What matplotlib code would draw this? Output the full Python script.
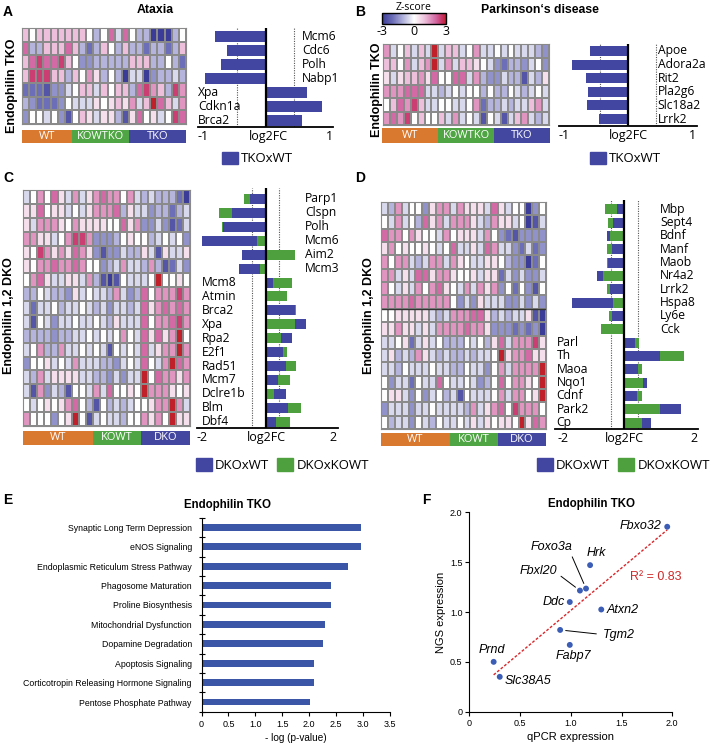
import numpy as np
import matplotlib
matplotlib.use("Agg")
import matplotlib.pyplot as plt
from matplotlib.colors import LinearSegmentedColormap, Normalize
from matplotlib.patches import Patch
from matplotlib.cm import ScalarMappable

plt.rcParams['axes.unicode_minus'] = False

# ---------------- data ----------------
group_colors = ['#D9782F', '#4FA444', '#4447A0']

# Panel A: Ataxia (Endophilin TKO)
a_groups = ['WT', 'KOWTKO', 'TKO']
a_group_sizes = [7, 8, 8]
a_genes = ['Mcm6', 'Cdc6', 'Polh', 'Nabp1', 'Xpa', 'Cdkn1a', 'Brca2']
a_tko_wt = [-0.75, -0.57, -0.66, -0.90, 0.61, 0.84, 0.54]
a_heat = [
    [1, 0, 1, 1, 1, 1, 1, 1, 1, 0, -1, 0, 2, -0.5, 2, 0, -1, -1, -3, -3, -3, -1, 0],
    [2, -1, -1, 1, 1, 1, 2, 1, -1, -2, -1, 1, 0, -1, 1, -1, -1, -2, -1, -1, -2, -1, 1],
    [1, 2, 2.5, 2, 2, 2.5, 1, 0, -1.5, -1.5, -1, -1, -1, -1, -1, 1, 1, 1, -1, -1, 0, -1, -2],
    [1, 2.5, 2.5, 2.5, 1, 1, -1, 1, 0, 1.5, 0.5, -1, 0, -1, -3, -0.5, -0.5, -3, -1.5, -1, -1, -0.5, -1],
    [-2, -2, -2, -2.5, -1.5, -1.5, -0.5, 0, 1, 1, -0.5, 1, 0, 1, 1, -1, 2, 2.5, 1.5, 1, -1, 2.5, 1.5],
    [-1, -1.5, -2, -2, -2, -1.5, 0, -0.5, -0.5, -0.5, 0.5, 0, 0.5, 1, 0.5, 1.5, -0.5, 1, 3, 2, 1, -0.5, 1.5],
    [-1.5, 0, 0, -0.5, 0, -1.5, -2.5, 0, 1, 0.5, -0.5, 0.5, 0.5, -1, -2.5, 0.5, 2, 0, 0.5, -0.5, 0, 2.5, 2],
]

# Panel B: Parkinson's disease (Endophilin TKO)
b_groups = ['WT', 'KOWTKO', 'TKO']
b_group_sizes = [8, 8, 8]
b_genes = ['Apoe', 'Adora2a', 'Rit2', 'Pla2g6', 'Slc18a2', 'Lrrk2']
b_tko_wt = [-0.55, -0.81, -0.61, -0.58, -0.59, -0.42]
b_heat = [
    [1.5, -0.5, 0, 1, -0.5, 1, -0.5, 3, -0.5, 1, 1, -0.5, 0, 1.5, -0.5, -0.5, 0, -0.5, 0, -0.5, -0.5, -0.5, -1, -1.5],
    [1, 1, 0, 1.5, -0.5, 1, 1.5, 3, -0.5, 1.5, -0.5, 1, 1, 0.5, 0, -0.5, -1.5, -2, -1, -1, -1.5, -0.5, 0, -1.5],
    [0.5, -0.5, 0.5, 1, 1, 1.5, 0.5, 2, 0, 0, 2, 2, -0.5, 1.5, -1, -1.5, -1.5, -0.5, -1, -1, -2.5, -0.5, -1, 0.5],
    [1.5, 1.5, 1.5, 2, 2, 2, -0.5, -0.5, -1, -0.5, 0, -0.5, 0, 0, -1, 0, -1, -1, 0, -0.5, -1, -0.5, 0, -0.5],
    [0, 1, 2, 1.5, 2.5, 1, -0.5, -0.5, 0, 0, -0.5, -0.5, 0, 1.5, -2, -1, -1, -0.5, -1, -0.5, -0.5, 1, 1.5, -0.5],
    [1.5, 2, 1.5, 2.5, 0, 1, 0, 0, 1, -0.5, 1.5, -0.5, 0, -0.5, -2.5, 0, -0.5, -2.5, -0.5, 1, 1.5, -0.5, -1, -0.5],
]

# Panel C: Ataxia genes (Endophilin 1,2 DKO)
c_groups = ['WT', 'KOWT', 'DKO']
c_group_sizes = [10, 7, 7]
c_genes = ['Parp1', 'Clspn', 'Polh', 'Mcm6', 'Aim2', 'Mcm3', 'Mcm8', 'Atmin', 'Brca2',
           'Xpa', 'Rpa2', 'E2f1', 'Rad51', 'Mcm7', 'Dclre1b', 'Blm', 'Dbf4']
c_dko_wt = [-0.46, -1.00, -1.26, -1.88, -0.71, -0.78, 0.21, 0.02, 0.86,
            1.18, 0.77, 0.50, 0.60, 0.37, 0.60, 0.65, 0.30]
c_dko_kowt = [-0.63, -1.36, -1.29, -0.24, 0.86, -0.18, 0.77, 0.64, 0.88,
              0.86, 0.45, 0.64, 0.88, 0.72, 0.25, 1.03, 0.72]
c_heat = [
    [-0.5, 0, 1.5, 0, 2, 0.5, -0.5, 1.5, -0.5, 0.5, 1.5, 2, 1.5, 1.5, 0, 1.5, -0.5, -1, -0.5, -1, -1, -1, -2, -3],
    [0.5, 0.5, 2, 0, 0.5, 0.5, -0.5, 0, -0.5, 0.5, 1.5, 1.5, 1.5, 2, -1, 0.5, -0.5, -0.5, -1.5, -1, -1, -2, -1, -0.5],
    [0.5, -0.5, 1.5, 1.5, 1.5, 0.5, 0, 1.5, 0.5, 0.5, 0.5, 0.5, 0, 0, 2, 0.5, 1.5, -1.5, -1.5, -0.5, -1.5, -2.5, -2, -0.5],
    [1.5, 1.5, 0.5, 0.5, -0.5, 0, 1.5, 2.5, 2.5, 1.5, -1.5, -1.5, -1.5, -1, 0, 0.5, 0, 0, -1, -0.5, 0, -0.5, 0, -1.5],
    [0.5, 0, 2.5, 1.5, 0.5, 1.5, 0.5, 2, 1.5, 0.5, -1.5, -2.5, -1.5, -1.5, -0.5, -1, -1, 0.5, -0.5, -2.5, 0.5, -0.5, -0.5, 0.5],
    [0.5, 0, 1.5, 1.5, 2, 1.5, 1.5, 2, 1.5, 0, 0, -1.5, -1, -0.5, 1.5, -0.5, -0.5, -1, 1.5, -1, -2.5, -2, -0.5, -1.5],
    [0, 1.5, 2, 0.5, -0.5, -0.5, 0.5, 0.5, -0.5, 1.5, -1, -2.5, -3, -2.5, 0, -0.5, -0.5, -0.5, 0, 3, 0, 0, 0.5, 0],
    [-1, -1, 0, -0.5, -1, -1, -1.5, 0.5, -0.5, 0, -0.5, -0.5, -1, 1.5, -0.5, -1.5, -1, 2, 0, 1.5, 1.5, 1.5, 2.5, 1.5],
    [-0.5, -2, -0.5, -0.5, 0, -1, -0.5, -0.5, 0, -0.5, -1, -0.5, -1.5, -0.5, -0.5, -1, -0.5, 2, 0.5, 1.5, 2, 1.5, 2, 1.5],
    [-0.5, -2.5, 0, -0.5, -1.5, -0.5, -0.5, 0, -0.5, -0.5, 0, -0.5, -1, 0.5, -0.5, -0.5, -0.5, 2, 0, 1.5, 1.5, 2, 2.5, 1.5],
    [-1, -1, -1, -1, -1.5, -1, -1, -0.5, -0.5, 0, -0.5, 0, -0.5, 0, 1.5, 0, -0.5, 2, 0.5, 2, 0.5, 1.5, 3, 0],
    [-0.5, 0, 1.5, -1, -1, 1.5, -0.5, -0.5, 0, -0.5, 0, -0.5, -2.5, 0, -0.5, 0, -0.5, 2, -0.5, 0.5, 1.5, 1.5, 3, 1.5],
    [-1.5, 0, 0, 0.5, -0.5, 0, -0.5, 1.5, -0.5, -0.5, -0.5, -1, -1, -1.5, -0.5, 0, -0.5, 2, 0, -0.5, 1.5, 3, 2, 1.5],
    [-0.5, -1, 1.5, -0.5, 0.5, 0.5, 0.5, 0.5, -0.5, -0.5, -1, -1, -1.5, -0.5, -1.5, -0.5, -0.5, 3, 0, 2, 1.5, 1.5, 0.5, 1.5],
    [-0.5, -2.5, 1.5, -1.5, -0.5, -1, -2.5, 0, 0, -0.5, 1.5, -0.5, 2, 0, 0, 0.5, 0, 3, 1.5, 1.5, 1.5, 0.5, 0, 0.5],
    [0, -0.5, 0, 0.5, 0, 0.5, 1.5, 2, 0, -1, -2.5, 0, -1, -0.5, -1, -0.5, 0, 0, 0.5, 1.5, 1.5, 3, 1.5, -0.5],
    [1.5, 0, 0, 0, -1.5, 0, 0.5, 3, 0, -2.5, -0.5, 0, -0.5, -0.5, -1, 0, 0, 1.5, 0.5, 1.5, 0, 3, 0.5, 0.5],
]

# Panel D: Parkinson's genes (Endophilin 1,2 DKO)
d_groups = ['WT', 'KOWT', 'DKO']
d_group_sizes = [10, 7, 7]
d_genes = ['Mbp', 'Sept4', 'Bdnf', 'Manf', 'Maob', 'Nr4a2', 'Lrrk2', 'Hspa8', 'Ly6e',
           'Cck', 'Parl', 'Th', 'Maoa', 'Nqo1', 'Cdnf', 'Park2', 'Cp']
d_dko_wt = [-0.20, -0.32, -0.51, -0.37, -0.48, -0.79, -0.42, -1.53, -0.35,
            -0.03, 0.31, 1.04, 0.41, 0.65, 0.36, 1.64, 0.78]
d_dko_kowt = [-0.56, -0.47, -0.42, -0.50, -0.50, -0.63, -0.50, -0.32, -0.45,
              -0.69, 0.43, 1.75, 0.52, 0.55, 0.52, 1.04, 0.52]
d_heat = [
    [-0.5, -1, 1.5, -0.5, 0, 0, -1.5, 0.5, 1.5, 1.5, -0.5, 1.5, 0.5, 0.5, 0.5, -0.5, 2, 0.5, -0.5, 0, 0, -3, -1.5, 0],
    [0, -0.5, 1.5, -0.5, 0, -1, 2, 0.5, 1.5, -0.5, 1.5, 1.5, 1.5, 0.5, -0.5, -1, 1.5, 0.5, 0.5, -0.5, 0, -3, -2.5, -0.5],
    [2, 1.5, 1.5, 0, 1.5, 0.5, 0, 0, -0.5, 1.5, 0, 0.5, 0.5, 0.5, -0.5, 1.5, 0, -1.5, -2, -2.5, -1.5, -1.5, -1.5, -1.5],
    [0.5, 1.5, 0, 0.5, 0, 0, 0.5, 0, -0.5, 0, 2, -0.5, -0.5, 0.5, -0.5, 2, 1.5, -0.5, -0.5, -1.5, -2, -0.5, -2, -1.5],
    [1.5, 0, 1.5, 1.5, -0.5, -1, -0.5, 1.5, 1.5, -0.5, 1.5, 0.5, 0, -0.5, -0.5, 0.5, 0.5, 0, -1, -1.5, -1.5, -3, -2, 0],
    [1.5, 1.5, -0.5, 0.5, -0.5, 2, 2, 0.5, 1.5, 1.5, 0.5, 0, 0, 0.5, -0.5, 0.5, 0.5, -2, -0.5, -1.5, -0.5, -1.5, -1.5, -0.5],
    [1.5, 0, -0.5, 0.5, -0.5, 1.5, 0, 1.5, 2, 0.5, 0, -0.5, 1.5, -0.5, 1.5, 0.5, 1.5, -1.5, 0, -2, 0, -1.5, -2.5, 0],
    [1.5, 1.5, 1.5, 1.5, 2, 1.5, 1.5, 1.5, 1.5, 1.5, 0, -1.5, -0.5, -1.5, 0.5, -0.5, -0.5, -0.5, -1.5, -1.5, -0.5, -1.5, -0.5, -1.5],
    [0, 0, 0.5, 0.5, 0.5, 0.5, 0.5, -0.5, -1, -0.5, 1.5, 1.5, 1.5, 2, 2, 0.5, -1, -0.5, -1, -0.5, -0.5, 0.5, -2.5, -3],
    [0.5, 0.5, 1.5, 0.5, 0.5, -0.5, 0.5, -0.5, 1.5, 1.5, 1.5, 1.5, 2, 1.5, 1.5, 0.5, -1.5, -1.5, -1.5, -2, -1.5, -2, -1.5, -3],
    [-0.5, -0.5, 0, 0.5, -2, -0.5, 0.5, -0.5, 0, -1, -1, -1, 0, -0.5, 0, -1, 0.5, 2, -0.5, 1.5, 1.5, 1.5, 2.5, 0.5],
    [-0.5, 0.5, -1, -0.5, -1, 1.5, 0.5, -0.5, -1, -0.5, -1, -1, -0.5, -1, -0.5, -0.5, 0, 3, 0.5, 1.5, 1.5, 2, 0.5, 0.5],
    [-0.5, -0.5, -1, 0, -0.5, -0.5, -0.5, 0, -0.5, -0.5, -1, -1, 0, -0.5, -0.5, -1.5, 0, 1.5, -0.5, 1.5, 1.5, 1.5, 1.5, 3],
    [0, -1.5, -0.5, -0.5, -2, 0, -0.5, -0.5, 2, 0, -0.5, -0.5, 0, -0.5, -1.5, -1, 0, 2, 0, 1.5, 1.5, 0.5, 0, 3],
    [0, 0.5, 0.5, -0.5, -1.5, 0, -1.5, -0.5, 0, -1, -0.5, -2.5, 0, -0.5, -0.5, -0.5, 0, 1.5, -0.5, 1.5, 1.5, 0, 0.5, 3],
    [-1.5, -0.5, -0.5, -0.5, -1.5, -0.5, -0.5, 0, -0.5, -0.5, -0.5, -0.5, -1, 1.5, -0.5, 0.5, 1.5, 2, 0, 2.5, 1.5, 1.5, 1.5, 0],
    [0, -1, -0.5, -0.5, -1.5, 0, -0.5, -1, 0, -0.5, -0.5, 0, -0.5, 0.5, -0.5, 0.5, 0, 0.5, 0.5, 0, 3, 0.5, 2, 1.5],
]

# Panel E: pathway enrichment (Endophilin TKO)
e_pathways = ['Synaptic Long Term Depression', 'eNOS Signaling',
              'Endoplasmic Reticulum Stress Pathway', 'Phagosome Maturation',
              'Proline Biosynthesis', 'Mitochondrial Dysfunction',
              'Dopamine Degradation', 'Apoptosis Signaling',
              'Corticotropin Releasing Hormone Signaling', 'Pentose Phosphate Pathway']
e_neglogp = [2.97, 2.97, 2.72, 2.40, 2.40, 2.30, 2.25, 2.08, 2.08, 2.02]
e_ticks = [0, 0.5, 1.0, 1.5, 2.0, 2.5, 3.0, 3.5]
e_ticklabels = ['0', '0.5', '1.0', '1.5', '2.0', '2.5', '3.0', '3.5']

# Panel F: qPCR vs NGS (Endophilin TKO)
f_genes = ['Fbxo32', 'Hrk', 'Foxo3a', 'Fbxl20', 'Ddc', 'Atxn2', 'Tgm2', 'Fabp7', 'Prnd', 'Slc38A5']
f_qpcr = [1.95, 1.19, 1.15, 1.09, 0.99, 1.30, 0.895, 0.99, 0.24, 0.30]
f_ngs = [1.855, 1.47, 1.235, 1.215, 1.10, 1.025, 0.82, 0.67, 0.50, 0.35]
f_r2 = 0.83
f_ticks = [0, 0.5, 1.0, 1.5, 2.0]
f_ticklabels = ['0', '0.5', '1.0', '1.5', '2.0']

# ---------------- figure ----------------
W, H, DPI = 715, 746, 100
fig = plt.figure(figsize=(W / DPI, H / DPI), dpi=DPI)
fig.patch.set_facecolor('white')

SANS = 'Open Sans'
ARIAL = 'Liberation Sans'
BLUE = '#4346A0'
GREEN = '#4E9F3D'

zcmap = LinearSegmentedColormap.from_list('z', [
    (0.0, '#3B3C97'), (1 / 6, '#6E6FB8'), (1 / 3, '#B4B4DC'), (0.5, '#FFFFFF'),
    (2 / 3, '#EDBFDB'), (5 / 6, '#D46BA6'), (0.93, '#C8376A'), (1.0, '#C0202A')])
znorm = Normalize(-3, 3)


def px_axes(x0, y0, x1, y1):
    return fig.add_axes([x0 / W, 1 - y1 / H, (x1 - x0) / W, (y1 - y0) / H])


def ftext(x, y, s, **kw):
    return fig.text(x / W, 1 - y / H, s, **kw)


def draw_heatmap(box, values, hline=None):
    ax = px_axes(*box)
    arr = np.asarray(values, dtype=float)
    ax.pcolormesh(arr, cmap=zcmap, norm=znorm, edgecolors='#8a8a8a', linewidth=0.35)
    ax.set_xlim(0, arr.shape[1])
    ax.set_ylim(arr.shape[0], 0)
    ax.set_xticks([])
    ax.set_yticks([])
    for s in ax.spines.values():
        s.set_color('#8a8a8a')
        s.set_linewidth(0.8)
    if hline is not None:
        ax.axhline(hline, color='#333333', lw=1.0)
    return ax


def draw_groups(box, names, sizes):
    ax = px_axes(*box)
    left = 0
    for name, n, col in zip(names, sizes, group_colors):
        ax.barh(0, n, left=left, height=1, color=col, edgecolor='none')
        ax.text(left + n / 2, 0, name, color='white', ha='center', va='center',
                fontsize=8, family=SANS)
        left += n
    ax.set_xlim(0, left)
    ax.set_ylim(-0.5, 0.5)
    ax.axis('off')


def draw_fc(box, xlim, ylim, genes, series, colors, dotted, xneg, xpos,
            ticks, ticklabels, bar_h):
    ax = px_axes(*box)
    for i in range(len(genes)):
        vals = [s[i] for s in series]
        order = sorted(range(len(series)), key=lambda k: -abs(vals[k]))
        for k in order:
            ax.barh(i, vals[k], height=bar_h, color=colors[k], edgecolor='none', zorder=2)
        if series[0][i] < 0:
            ax.text(xneg, i, genes[i], ha='left', va='center', fontsize=8.7, family=SANS)
        else:
            ax.text(xpos, i, genes[i], ha='left', va='center', fontsize=8.7, family=SANS)
    ax.axvline(0, color='black', lw=1.6, zorder=5)
    for d in (-dotted, dotted):
        ax.axvline(d, color='#555555', lw=0.8, ls=(0, (1, 1.2)), zorder=1)
    ax.set_xlim(*xlim)
    ax.set_ylim(*ylim)
    for sp in ('top', 'right', 'left'):
        ax.spines[sp].set_visible(False)
    ax.spines['bottom'].set_linewidth(1.3)
    ax.set_yticks([])
    ax.set_xticks(ticks)
    ax.set_xticklabels(ticklabels, fontsize=9, family=SANS)
    ax.tick_params(axis='x', length=0, pad=2)
    ax.patch.set_alpha(0)
    return ax


# ----- Panel A -----
ftext(3, 12, 'A', fontsize=10, fontweight='bold', family=ARIAL, va='center')
ftext(155, 10, 'Ataxia', fontsize=8.8, fontweight='bold', family=ARIAL, ha='center', va='center')
ftext(12, 86, 'Endophilin TKO', fontsize=9, fontweight='bold', family=ARIAL,
      rotation=90, ha='center', va='center')
draw_heatmap((22, 28, 186, 124), a_heat)
draw_groups((22, 130, 186, 143), a_groups, a_group_sizes)
draw_fc((198, 28, 333, 127), (-1, 1), (6.46, -0.62), a_genes, [a_tko_wt], [BLUE],
        0.42, 0.54, -1.0, [-0.93, 0.04, 0.95], ['-1', 'log2FC', '1'], 0.79)
fig.legend(handles=[Patch(color=BLUE, label='TKOxWT')], loc='center left',
           bbox_to_anchor=(222 / W, 1 - 158.5 / H), frameon=False,
           prop={'family': SANS, 'size': 9.5}, handlelength=1.2, handleheight=1.0,
           handletextpad=0.25, borderpad=0, borderaxespad=0)

# ----- Panel B -----
ftext(355, 12, 'B', fontsize=10, fontweight='bold', family=ARIAL, va='center')
ftext(540, 10, 'Parkinson\u2018s disease', fontsize=8.8, fontweight='bold', family=ARIAL,
      ha='center', va='center')
ftext(377, 90, 'Endophilin TKO', fontsize=9, fontweight='bold', family=ARIAL,
      rotation=90, ha='center', va='center')
cax = px_axes(382, 13, 446, 24)
cb = fig.colorbar(ScalarMappable(norm=znorm, cmap=zcmap), cax=cax, orientation='horizontal',
                  ticks=[-3, 0, 3])
cb.outline.set_linewidth(1.0)
cax.set_xticklabels(['-3', '0', '3'], fontsize=9, family=SANS)
cax.tick_params(length=0, pad=1)
cax.set_title('Z-score', fontsize=7.5, family=SANS, pad=1)
draw_heatmap((383, 44, 549, 125), b_heat)
draw_groups((382, 128, 550, 143), b_groups, b_group_sizes)
draw_fc((559, 44, 697, 126), (-1, 1), (5.51, -0.51), b_genes, [b_tko_wt], [BLUE],
        0.4, 0.43, -1.0, [-0.93, 0.0, 0.94], ['-1', 'log2FC', '1'], 0.74)
fig.legend(handles=[Patch(color=BLUE, label='TKOxWT')], loc='center left',
           bbox_to_anchor=(590 / W, 1 - 158.5 / H), frameon=False,
           prop={'family': SANS, 'size': 9.5}, handlelength=1.2, handleheight=1.0,
           handletextpad=0.25, borderpad=0, borderaxespad=0)

# ----- Panel C -----
ftext(3, 178, 'C', fontsize=10, fontweight='bold', family=ARIAL, va='center')
ftext(9, 316, 'Endophilin 1,2 DKO', fontsize=9, fontweight='bold', family=ARIAL,
      rotation=90, ha='center', va='center')
draw_heatmap((23, 190, 190, 426), c_heat)
draw_groups((23, 431, 190, 445), c_groups, c_group_sizes)
draw_fc((197, 188, 338, 428.3), (-2.02, 2.13), (16.47, -0.79), c_genes,
        [c_dko_wt, c_dko_kowt], [BLUE, GREEN], 0.4, 1.16, -1.87,
        [-1.87, 0.03, 1.99], ['-2', 'log2FC', '2'], 0.72)
fig.legend(handles=[Patch(color=BLUE, label='DKOxWT'), Patch(color=GREEN, label='DKOxKOWT')],
           loc='center left', ncol=2, bbox_to_anchor=(196 / W, 1 - 465 / H), frameon=False,
           prop={'family': SANS, 'size': 9.5}, handlelength=1.2, handleheight=1.15,
           handletextpad=0.25, columnspacing=0.6, borderpad=0, borderaxespad=0)

# ----- Panel D -----
ftext(355, 178, 'D', fontsize=10, fontweight='bold', family=ARIAL, va='center')
ftext(369, 316, 'Endophilin 1,2 DKO', fontsize=9, fontweight='bold', family=ARIAL,
      rotation=90, ha='center', va='center')
draw_heatmap((381, 202, 546, 429), d_heat, hline=8)
draw_groups((381, 433, 546, 446), d_groups, d_group_sizes)
draw_fc((555, 200, 698, 429.3), (-2.02, 2.15), (16.5, -0.7), d_genes,
        [d_dko_wt, d_dko_kowt], [BLUE, GREEN], 0.4, 1.04, -1.97,
        [-1.79, 0.0, 2.03], ['-2', 'log2FC', '2'], 0.75)
fig.legend(handles=[Patch(color=BLUE, label='DKOxWT'), Patch(color=GREEN, label='DKOxKOWT')],
           loc='center left', ncol=2, bbox_to_anchor=(537 / W, 1 - 465 / H), frameon=False,
           prop={'family': SANS, 'size': 9.5}, handlelength=1.2, handleheight=1.15,
           handletextpad=0.25, columnspacing=0.6, borderpad=0, borderaxespad=0)

# ----- Panel E -----
ftext(3, 500, 'E', fontsize=10, fontweight='bold', family=ARIAL, va='center')
axE = px_axes(201.5, 517.7, 390, 711.7)
yE = np.arange(len(e_pathways))
axE.barh(yE, e_neglogp, height=0.36, color='#3B56A6', edgecolor='none')
axE.set_ylim(len(e_pathways) - 0.5, -0.5)
axE.set_xlim(0, 3.5)
axE.set_yticks(np.arange(-0.5, len(e_pathways), 1.0))
axE.set_yticklabels([])
axE.set_yticks(yE, minor=True)
axE.set_yticklabels(e_pathways, minor=True, fontsize=6.3, family=ARIAL)
axE.tick_params(axis='y', which='minor', length=0, pad=7)
axE.tick_params(axis='y', which='major', direction='inout', length=5, width=0.8)
axE.set_xticks(e_ticks)
axE.set_xticklabels(e_ticklabels, fontsize=6.5, family=ARIAL)
axE.tick_params(axis='x', direction='out', length=3, width=0.8, pad=3)
for sp in ('top', 'right'):
    axE.spines[sp].set_visible(False)
for sp in ('left', 'bottom'):
    axE.spines[sp].set_linewidth(0.8)
axE.set_xlabel('- log (p-value)', fontsize=7.2, family=ARIAL, labelpad=3)
axE.set_title('Endophilin TKO', fontsize=8.3, fontweight='bold', family=ARIAL, pad=7, x=0.14)

# ----- Panel F -----
ftext(422, 500, 'F', fontsize=10, fontweight='bold', family=ARIAL, va='center')
axF = px_axes(469.3, 512.3, 672.3, 711.7)
qx = np.array(f_qpcr)
ny = np.array(f_ngs)
axF.scatter(qx, ny, s=18, color='#3C5DB5', edgecolors='none', zorder=3)
slope, icpt = np.polyfit(qx, ny, 1)
xs = np.array([qx.min(), qx.max()])
axF.plot(xs, slope * xs + icpt, color='#D9262A', lw=1.0, ls=(0, (2, 1.3)), zorder=2)
axF.set_xlim(0, 2)
axF.set_ylim(0, 2)
axF.set_xticks(f_ticks)
axF.set_xticklabels(f_ticklabels, fontsize=6.5, family=ARIAL)
axF.set_yticks(f_ticks)
axF.set_yticklabels(f_ticklabels, fontsize=6.5, family=ARIAL)
axF.tick_params(direction='out', length=3, width=0.8, pad=2)
for sp in ('top', 'right'):
    axF.spines[sp].set_visible(False)
for sp in ('left', 'bottom'):
    axF.spines[sp].set_linewidth(0.8)
axF.set_xlabel('qPCR expression', fontsize=8, family=ARIAL, labelpad=3)
axF.set_ylabel('NGS expression', fontsize=8, family=ARIAL, labelpad=3)
axF.set_title('Endophilin TKO', fontsize=8.3, fontweight='bold', family=ARIAL, pad=4, x=0.6)

lab = dict(fontsize=9, style='italic', family=ARIAL)
pts = {g: (x, y) for g, x, y in zip(f_genes, f_qpcr, f_ngs)}
axF.text(1.895, 1.862, 'Fbxo32', ha='right', va='center', **lab)
axF.text(1.255, 1.593, 'Hrk', ha='center', va='center', **lab)
axF.annotate('Foxo3a', xy=pts['Foxo3a'], xytext=(0.811, 1.654), ha='center', va='center',
             arrowprops=dict(arrowstyle='-', lw=0.7, color='black', shrinkA=1, shrinkB=4,
                             relpos=(0.95, 0.0)), **lab)
axF.annotate('Fbxl20', xy=pts['Fbxl20'], xytext=(0.68, 1.412), ha='center', va='center',
             arrowprops=dict(arrowstyle='-', lw=0.7, color='black', shrinkA=1, shrinkB=4,
                             relpos=(1.0, 0.3)), **lab)
axF.text(0.943, 1.099, 'Ddc', ha='right', va='center', **lab)
axF.text(1.353, 1.025, 'Atxn2', ha='left', va='center', **lab)
axF.annotate('Tgm2', xy=pts['Tgm2'], xytext=(1.32, 0.773), ha='left', va='center',
             arrowprops=dict(arrowstyle='-', lw=0.7, color='black', shrinkA=3, shrinkB=4,
                             relpos=(0.0, 0.5)), **lab)
axF.text(1.025, 0.555, 'Fabp7', ha='center', va='center', **lab)
axF.text(0.22, 0.618, 'Prnd', ha='center', va='center', **lab)
axF.text(0.351, 0.303, 'Slc38A5', ha='left', va='center', **lab)
axF.text(1.583, 1.351, 'R\u00b2 = %.2f' % f_r2, ha='left', va='center', fontsize=9,
         color='#D02A2A', family=ARIAL)

fig.savefig('out.png', dpi=DPI, facecolor='white')
